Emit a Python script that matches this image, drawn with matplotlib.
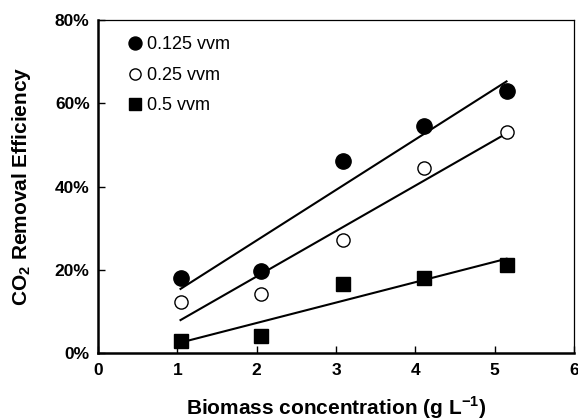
import numpy as np
import matplotlib
matplotlib.use('Agg')
import matplotlib.pyplot as plt
from matplotlib.ticker import PercentFormatter, MultipleLocator

# ── Data ─────────────────────────────────────────────────────
biomass = [1.04, 2.06, 3.09, 4.11, 5.15]          # g/L
eff_0125 = [18.1, 19.8, 46.2, 54.5, 63.0]          # %
eff_025 = [12.4, 14.2, 27.3, 44.6, 53.2]           # %
eff_05 = [3.0, 4.2, 16.6, 18.1, 21.2]              # %

series = [
    ("0.125 vvm", eff_0125, dict(marker='o', ms=11, mfc='black', mec='black')),
    ("0.25 vvm", eff_025, dict(marker='o', ms=9.5, mfc='white', mec='black', mew=1.0)),
    ("0.5 vvm", eff_05, dict(marker='s', ms=9.5, mfc='black', mec='black')),
]

# ── Style ────────────────────────────────────────────────────
plt.rcParams['font.family'] = ['Liberation Sans', 'DejaVu Sans']
plt.rcParams['mathtext.fontset'] = 'custom'
plt.rcParams['mathtext.rm'] = 'Liberation Sans'
plt.rcParams['mathtext.bf'] = 'Liberation Sans:bold'

fig = plt.figure(figsize=(5.78, 4.2), dpi=100)
ax = fig.add_axes([0.1696, 0.1588, 0.8234, 0.7932])

x = np.array(biomass)
for label, y, style in series:
    y = np.array(y)
    # linear regression line over the data range
    k, b = np.polyfit(x, y, 1)
    ax.plot([x[0], x[-1]], [k * x[0] + b, k * x[-1] + b], color='black', lw=1.5, zorder=2)
    ax.plot(x, y, ls='none', label=label, zorder=3, **style)

ax.set_xlim(0, 6)
ax.set_ylim(0, 80)
ax.xaxis.set_major_locator(MultipleLocator(1))
ax.yaxis.set_major_locator(MultipleLocator(20))
ax.yaxis.set_major_formatter(PercentFormatter(decimals=0))

ax.tick_params(direction='in', length=5, width=1.0, labelsize=12.5, pad=7)
ax.tick_params(axis='y', pad=6)
for t in ax.get_xticklabels() + ax.get_yticklabels():
    t.set_fontweight('bold')

ax.spines['left'].set_linewidth(1.8)
ax.spines['bottom'].set_linewidth(1.8)
ax.spines['top'].set_linewidth(0.9)
ax.spines['right'].set_linewidth(0.9)

ax.set_xlabel(r'Biomass concentration (g L$^{\mathbf{-1}}$)', fontsize=15,
              fontweight='bold', labelpad=12)
ax.set_ylabel(r'CO$_{\mathbf{2}}$ Removal Efficiency', fontsize=15,
              fontweight='bold', labelpad=16)

leg = ax.legend(loc='upper left', frameon=False, fontsize=13, handlelength=0.7,
                handletextpad=0.3, labelspacing=0.75, borderaxespad=0.5,
                bbox_to_anchor=(0.03, 1.0), markerscale=0.85)

fig.savefig('out.png', dpi=100)
